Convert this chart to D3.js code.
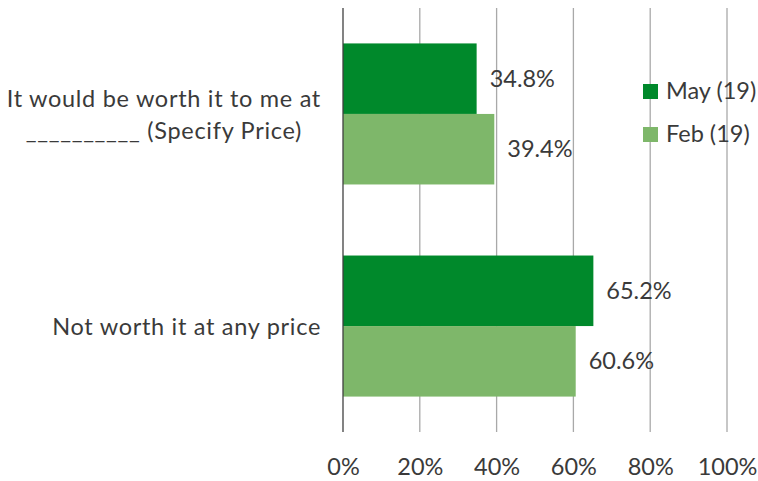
<!DOCTYPE html>
<html>
<head>
<meta charset="utf-8">
<script src="https://cdn.jsdelivr.net/npm/d3@7"></script>
<style>
  html, body { margin: 0; padding: 0; background: #fff; }
  svg text { font-family: Lato, "Open Sans", sans-serif; fill: #3a3a3a; }
</style>
</head>
<body>
<svg id="chart" width="758" height="481"></svg>
<script>
// Survey answers (each may be split over several lines)
const categories = [
  ["It would be worth it to me at", "__________ (Specify Price)"],
  ["Not worth it at any price"]
];
const seriesNames = ["May (19)", "Feb (19)"];
const mayValues = [34.8, 65.2];
const febValues = [39.4, 60.6];
const tickValues = [0, 20, 40, 60, 80, 100];
const colors = ["#00892b", "#7eb76a"];

const fontSize = "23.5px";
const svg = d3.select("#chart");
const margin = { left: 343, top: 8, right: 31, bottom: 49 };
const width = 758 - margin.left - margin.right;
const height = 481 - margin.top - margin.bottom;

const x = d3.scaleLinear().domain([0, 100]).range([0, width]);
const y = d3.scaleBand().domain(d3.range(categories.length)).range([0, height])
  .paddingInner(0.335).paddingOuter(0.167);
const ySub = d3.scaleBand().domain(d3.range(seriesNames.length)).range([0, y.bandwidth()]);

const g = svg.append("g").attr("transform", `translate(${margin.left},${margin.top})`);

// vertical gridlines
g.selectAll("line.grid").data(tickValues.filter(t => t > 0)).join("line")
  .attr("class", "grid")
  .attr("x1", d => x(d)).attr("x2", d => x(d))
  .attr("y1", 0).attr("y2", height)
  .attr("stroke", "#a9a9a9").attr("stroke-width", 1.3);

// bottom axis labels
const xAxis = d3.axisBottom(x).tickValues(tickValues).tickSize(0).tickPadding(0)
  .tickFormat(d => d + "%");
const ax = g.append("g").attr("transform", `translate(0,${height})`).call(xAxis);
ax.select(".domain").remove();
ax.selectAll("text").attr("dy", null).attr("y", 43)
  .style("font-size", fontSize).style("fill", "#3a3a3a")
  .style("font-family", "Lato, 'Open Sans', sans-serif");

// bars
const series = [mayValues, febValues];
series.forEach((vals, si) => {
  const grp = g.append("g");
  grp.selectAll("rect").data(vals).join("rect")
    .attr("x", x(0))
    .attr("y", (d, i) => y(i) + ySub(si))
    .attr("width", d => x(d) - x(0))
    .attr("height", ySub.bandwidth())
    .attr("fill", colors[si]);
  grp.selectAll("text").data(vals).join("text")
    .attr("x", d => x(d) + 13)
    .attr("y", (d, i) => y(i) + ySub(si) + ySub.bandwidth() / 2 + 2)
    .attr("dominant-baseline", "middle")
    .style("font-size", fontSize)
    .text(d => d.toFixed(1) + "%");
});

// zero axis line
g.append("line").attr("x1", x(0)).attr("x2", x(0)).attr("y1", 0).attr("y2", height)
  .attr("stroke", "#404040").attr("stroke-width", 1.3);

// category labels: block right-aligned, lines centred within the block
const lineH = 32;
categories.forEach((lines, i) => {
  const cy = margin.top + y(i) + y.bandwidth() / 2 + 3;
  const t = svg.append("text").style("font-size", fontSize).style("letter-spacing", "0.7px");
  lines.forEach((ln, j) => {
    t.append("tspan").text(ln)
      .attr("y", cy + (j - (lines.length - 1) / 2) * lineH)
      .attr("dominant-baseline", "middle");
  });
  const widths = [];
  t.selectAll("tspan").each(function () { widths.push(this.getComputedTextLength()); });
  const maxW = d3.max(widths);
  const right = margin.left - 22;
  t.attr("text-anchor", "middle").selectAll("tspan").attr("x", right - maxW / 2);
});

// legend
const legend = svg.append("g").attr("transform", "translate(643,84)");
seriesNames.forEach((name, i) => {
  const row = legend.append("g").attr("transform", `translate(0,${i * 43})`);
  row.append("rect").attr("width", 15).attr("height", 15).attr("fill", colors[i]);
  row.append("text").attr("x", 23).attr("y", 9).attr("dominant-baseline", "middle")
    .style("font-size", fontSize).text(name);
});
</script>
</body>
</html>
